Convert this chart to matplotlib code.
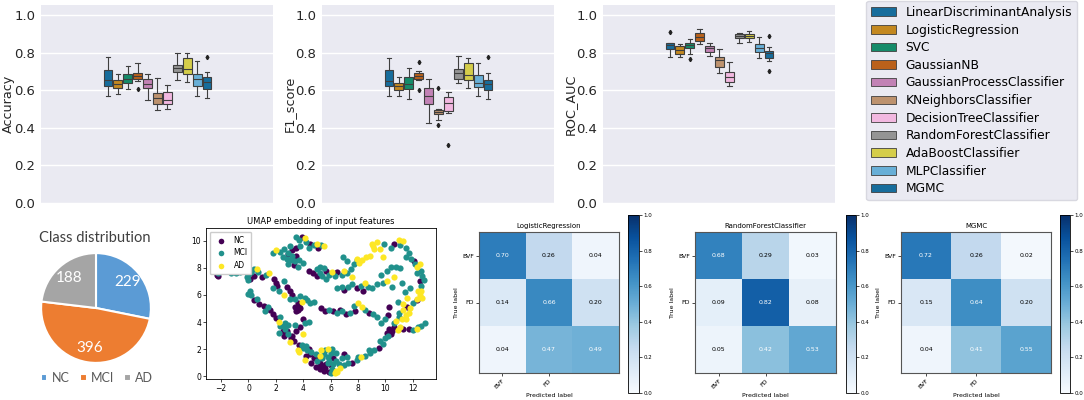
import colorsys
import numpy as np
import matplotlib
matplotlib.use("Agg")
import matplotlib.pyplot as plt
import matplotlib.colors as mcolors
from matplotlib.patches import Patch

# ---------------------------------------------------------------------------
# Data
# ---------------------------------------------------------------------------
models = ["LinearDiscriminantAnalysis", "LogisticRegression", "SVC", "GaussianNB",
          "GaussianProcessClassifier", "KNeighborsClassifier", "DecisionTreeClassifier",
          "RandomForestClassifier", "AdaBoostClassifier", "MLPClassifier", "MGMC"]
model_colors = ["#0173B2", "#DE8F05", "#029E73", "#D55E00", "#CC78BC", "#CA9161",
                "#FBAFE4", "#949494", "#ECE133", "#56B4E9", "#0173B2"]

acc_lo  = [0.568, 0.579, 0.606, 0.648, 0.547, 0.494, 0.501, 0.654, 0.645, 0.568, 0.556]
acc_q1  = [0.622, 0.609, 0.636, 0.657, 0.609, 0.529, 0.524, 0.698, 0.686, 0.623, 0.606]
acc_med = [0.654, 0.632, 0.662, 0.675, 0.632, 0.556, 0.547, 0.716, 0.712, 0.657, 0.643]
acc_q3  = [0.707, 0.654, 0.686, 0.689, 0.657, 0.583, 0.588, 0.734, 0.769, 0.686, 0.671]
acc_hi  = [0.778, 0.686, 0.728, 0.744, 0.684, 0.666, 0.627, 0.796, 0.796, 0.753, 0.698]
acc_fl  = [[], [], [], [0.604], [], [], [], [], [], [], [0.778]]

f1_lo  = [0.568, 0.568, 0.551, 0.654, 0.426, 0.440, 0.480, 0.639, 0.609, 0.568, 0.551]
f1_q1  = [0.622, 0.600, 0.606, 0.659, 0.524, 0.471, 0.490, 0.662, 0.654, 0.615, 0.600]
f1_med = [0.648, 0.622, 0.631, 0.675, 0.570, 0.485, 0.533, 0.693, 0.680, 0.636, 0.631]
f1_q3  = [0.707, 0.636, 0.671, 0.689, 0.609, 0.497, 0.565, 0.712, 0.746, 0.680, 0.654]
f1_hi  = [0.773, 0.671, 0.719, 0.702, 0.659, 0.500, 0.590, 0.782, 0.773, 0.742, 0.693]
f1_fl  = [[], [], [], [0.751, 0.600], [], [0.609, 0.416], [0.307], [], [], [], [0.778]]

roc_lo  = [0.778, 0.778, 0.792, 0.845, 0.782, 0.689, 0.623, 0.853, 0.858, 0.769, 0.755]
roc_q1  = [0.821, 0.790, 0.822, 0.863, 0.805, 0.725, 0.645, 0.879, 0.876, 0.805, 0.773]
roc_med = [0.838, 0.813, 0.838, 0.885, 0.822, 0.760, 0.671, 0.890, 0.888, 0.826, 0.796]
roc_q3  = [0.853, 0.835, 0.849, 0.902, 0.837, 0.778, 0.698, 0.897, 0.897, 0.844, 0.808]
roc_hi  = [0.853, 0.845, 0.874, 0.924, 0.853, 0.817, 0.751, 0.906, 0.915, 0.881, 0.828]
roc_fl  = [[0.908], [], [0.766], [], [], [], [], [], [], [], [0.890, 0.703]]

pie_labels = ["NC", "MCI", "AD"]
pie_counts = [229, 396, 188]
pie_colors = ["#5B9BD5", "#ED7D31", "#A5A5A5"]

umap_nc = [(-2.2, 7.4), (-0.8, 7.7), (-0.3, 7.8), (0.1, 7.2), (0.4, 7.4), (1.0, 7.3),
           (3.9, 10.3), (4.5, 9.8), (5.1, 9.5), (3.2, 9.3), (3.5, 9.5), (3.3, 8.2), (3.5, 8.9),
           (4.4, 7.8), (4.7, 7.6), (5.7, 7.8), (6.5, 7.7), (5.0, 7.4),
           (7.0, 6.4), (7.9, 6.5), (8.4, 6.3),
           (5.3, 5.0), (5.6, 4.8), (6.2, 4.8), (7.1, 4.6), (8.8, 4.7),
           (10.6, 9.8), (12.1, 8.5), (12.5, 7.0), (11.6, 5.1), (10.3, 3.5), (10.4, 3.1),
           (9.5, 2.1), (7.6, 1.0), (6.0, 0.8), (5.6, 0.6), (5.3, 0.8),
           (10.2, 4.5), (10.3, 5.1), (10.6, 3.6), (11.3, 3.5), (11.7, 3.5),
           (2.5, 3.3), (2.6, 3.0), (3.1, 2.8), (3.3, 2.6), (3.5, 3.3), (3.8, 3.6), (3.7, 2.3),
           (4.5, 1.6), (4.8, 1.3), (4.2, 1.5), (4.6, 1.0), (4.0, 4.2),
           (0.4, 5.6), (0.8, 5.3), (1.1, 5.2), (1.6, 4.9), (1.8, 4.6), (2.0, 4.3),
           (1.9, 7.2), (2.0, 6.9), (2.1, 6.7), (2.8, 6.6), (3.0, 6.3), (3.2, 6.0),
           (3.6, 5.4), (3.7, 5.1), (3.5, 4.8),
           (4.4, 2.0), (6.2, 1.3), (7.0, 1.6), (5.7, 0.9), (5.2, 0.5), (5.5, 0.4), (4.9, 0.7),
           (3.4, 5.1), (3.8, 5.0), (3.6, 4.9), (2.8, 3.3), (3.2, 3.0), (5.0, 1.5), (5.2, 1.0),
           (5.9, 0.3), (10.1, 3.2), (10.5, 3.3), (12.3, 5.6), (6.7, 4.9), (7.8, 4.8),
           (2.9, 9.0), (-2.3, 7.5)]
umap_mci = [(-2.2, 7.6), (-1.3, 7.6), (-1.0, 7.7), (-0.9, 7.6), (-0.6, 7.7), (0.0, 7.5),
            (0.2, 7.7), (0.7, 7.7), (1.3, 7.5), (0.4, 7.9), (0.0, 7.1), (-0.1, 7.3),
            (3.5, 10.3), (3.7, 10.1), (4.2, 9.9), (4.8, 9.7), (5.3, 9.7), (4.4, 9.5),
            (1.8, 9.1), (2.3, 9.2), (2.6, 9.4), (2.9, 9.1), (3.8, 9.6), (3.0, 9.6),
            (2.5, 8.8), (2.8, 8.7), (3.1, 8.6), (3.4, 8.5), (3.7, 8.6), (3.6, 8.1), (2.9, 8.3),
            (4.0, 8.4), (3.2, 8.9),
            (5.0, 7.9), (5.2, 8.1), (5.5, 8.0), (5.9, 7.5), (5.4, 7.4), (5.7, 7.2), (6.3, 7.4),
            (6.8, 7.5), (7.2, 7.6), (7.5, 7.9), (7.7, 8.3), (7.9, 8.6), (6.9, 8.8), (7.2, 8.5),
            (5.2, 7.6),
            (6.5, 6.5), (6.8, 6.6), (7.3, 6.6), (7.6, 6.8), (8.2, 6.7), (8.7, 6.6), (9.0, 6.5),
            (9.4, 6.8), (9.8, 6.9),
            (9.7, 7.5), (10.1, 7.8), (10.4, 8.1), (10.8, 8.1), (11.1, 8.0),
            (5.9, 4.9), (6.5, 4.7), (6.8, 4.8), (7.4, 4.7), (7.7, 5.2), (8.5, 4.9), (9.1, 4.6),
            (9.4, 4.4),
            (9.9, 9.8), (10.4, 9.5), (11.1, 9.7), (11.5, 9.5), (11.7, 9.1), (11.9, 8.7),
            (12.6, 7.8), (12.7, 7.4), (12.6, 6.7), (12.0, 5.4), (11.0, 4.4), (10.6, 3.9),
            (10.0, 2.8), (9.8, 2.4), (9.2, 1.9), (8.9, 1.7), (8.5, 1.5), (7.9, 1.2), (7.3, 1.0),
            (7.0, 0.8), (6.1, 0.5), (5.8, 1.0),
            (11.4, 6.2), (11.8, 6.5), (11.2, 6.9), (10.5, 6.6), (10.9, 5.5), (10.0, 4.2), (9.7, 3.9),
            (12.0, 3.4), (12.6, 3.7), (12.9, 3.9),
            (2.3, 3.7), (2.7, 3.5), (2.9, 3.8), (2.9, 3.1), (3.4, 3.8), (4.1, 3.9), (4.4, 4.0),
            (4.0, 2.1), (4.3, 1.9), (5.0, 1.1), (5.4, 1.3), (2.6, 3.7), (2.7, 3.9),
            (0.1, 6.3), (0.2, 6.0), (1.4, 5.1), (2.3, 4.4), (1.2, 4.8), (0.6, 5.7), (0.0, 6.1),
            (1.8, 6.5), (2.2, 6.3), (2.6, 7.0), (3.4, 5.7), (4.1, 5.8), (4.3, 5.6), (4.5, 5.4),
            (3.8, 5.9), (3.0, 5.7), (4.8, 5.5),
            (3.9, 2.3), (4.2, 2.2), (4.6, 1.8), (4.9, 1.6), (5.5, 1.6), (5.8, 1.4), (6.0, 1.7),
            (6.4, 1.1), (6.6, 0.9), (6.8, 1.3), (7.2, 1.4), (5.9, 1.1), (6.0, 0.2), (6.1, 2.0),
            (6.4, 1.7), (5.6, 1.9), (6.2, 0.9),
            (12.3, 7.6), (12.8, 7.1), (12.2, 8.3), (11.5, 8.8), (11.0, 4.7), (8.0, 1.4),
            (8.8, 1.9), (9.6, 2.6), (10.2, 3.0), (12.4, 3.6), (2.2, 3.2)]
umap_ad = [(0.6, 7.9), (1.5, 7.6), (4.1, 10.2), (5.0, 9.8), (5.5, 9.6), (2.0, 9.3), (6.1, 7.7),
           (7.0, 7.8), (8.1, 8.4), (8.3, 8.6), (8.6, 8.8), (8.9, 8.9), (7.6, 7.3), (7.9, 8.7),
           (8.5, 6.9), (10.1, 7.0), (10.6, 7.3), (8.0, 5.4), (8.3, 5.1),
           (9.1, 9.6), (9.4, 9.9), (9.6, 9.4), (11.0, 10.1), (11.3, 10.0), (12.3, 8.1), (12.5, 8.3),
           (12.4, 6.3), (12.5, 6.0), (12.3, 5.7), (11.7, 4.7), (11.5, 4.5), (11.3, 4.9),
           (10.8, 4.1), (11.2, 4.2), (8.2, 1.4), (6.7, 0.6), (6.4, 0.4), (11.6, 5.8),
           (10.9, 3.4), (12.3, 3.5), (11.1, 3.6),
           (3.0, 2.5), (4.0, 3.1), (3.7, 1.8), (5.2, 1.5), (2.2, 4.0), (2.6, 6.0), (3.9, 5.5),
           (5.3, 1.9), (6.3, 0.2), (6.5, 0.3), (5.8, 2.0), (4.1, 1.2), (3.6, 1.9),
           (9.2, 9.4), (9.0, 9.8), (11.5, 4.2), (11.8, 5.0), (12.6, 6.3), (12.7, 5.8),
           (11.3, 5.3), (9.8, 8.8)]

cm_titles = ["LogisticRegression", "RandomForestClassifier", "MGMC"]
cm_tick_labels = ["BVF", "FD"]
cm_logreg = [[0.70, 0.26, 0.04], [0.14, 0.66, 0.20], [0.04, 0.47, 0.49]]
cm_rf     = [[0.68, 0.29, 0.03], [0.09, 0.82, 0.08], [0.05, 0.42, 0.53]]
cm_mgmc   = [[0.72, 0.26, 0.02], [0.15, 0.64, 0.20], [0.04, 0.41, 0.55]]


def desat(c, prop=0.75):
    h, l, s = colorsys.rgb_to_hls(*mcolors.to_rgb(c))
    return colorsys.hls_to_rgb(h, l, s * prop)


W, H = 1084, 400
fig = plt.figure(figsize=(W / 100, H / 100), dpi=100)


def px_axes(x0, y0, x1, y1):
    # pixel box (top-left origin) -> figure axes
    return fig.add_axes([x0 / W, 1 - y1 / H, (x1 - x0) / W, (y1 - y0) / H])


# ---------------------------------------------------------------------------
# Top row: boxplots (seaborn darkgrid look)
# ---------------------------------------------------------------------------
box_cols = [desat(c) for c in model_colors]
line_c = "#3f3f3f"
panels = [
    (41, "Accuracy", acc_lo, acc_q1, acc_med, acc_q3, acc_hi, acc_fl),
    (322, "F1_score", f1_lo, f1_q1, f1_med, f1_q3, f1_hi, f1_fl),
    (603, "ROC_AUC", roc_lo, roc_q1, roc_med, roc_q3, roc_hi, roc_fl),
]
for x0, label, lo, q1, med, q3, hi, fl in panels:
    ax = px_axes(x0, 5, x0 + 232, 203)
    ax.set_facecolor("#EAEAF2")
    for s in ax.spines.values():
        s.set_visible(False)
    ax.grid(True, axis="y", color="white", lw=1.0)
    ax.set_axisbelow(True)
    stats = [dict(whislo=lo[i], q1=q1[i], med=med[i], q3=q3[i], whishi=hi[i], fliers=fl[i])
             for i in range(len(models))]
    bp = ax.bxp(stats, positions=np.arange(len(models)), widths=0.9, patch_artist=True,
                boxprops=dict(edgecolor=line_c, lw=0.8),
                medianprops=dict(color=line_c, lw=0.8),
                whiskerprops=dict(color=line_c, lw=0.8),
                capprops=dict(color=line_c, lw=0.8),
                flierprops=dict(marker="d", markersize=2.2, markerfacecolor="#222222",
                                markeredgecolor="#222222"))
    for patch, c in zip(bp["boxes"], box_cols):
        patch.set_facecolor(c)
    ax.set_xlim(-6.77, 16.67)
    ax.set_ylim(0, 1.053)
    ax.set_xticks([])
    ax.set_yticks([0.0, 0.2, 0.4, 0.6, 0.8, 1.0])
    ax.set_yticklabels(["0.0", "0.2", "0.4", "0.6", "0.8", "1.0"])
    ax.tick_params(axis="y", length=0, labelsize=9.5, labelcolor="#262626", pad=4)
    ax.set_ylabel(label, fontsize=9.2, color="#262626")
    ax.yaxis.set_label_coords(-33 / 232, 0.5)
    ax.yaxis.label.set_va("center")

handles = [Patch(facecolor=c, edgecolor=line_c, lw=0.6) for c in box_cols]
fig.legend(handles, models, loc="upper right", bbox_to_anchor=(1077 / W, 1 - 1 / H),
           borderaxespad=0, fontsize=8.8, labelspacing=0.38, handlelength=2.0,
           handleheight=0.7, handletextpad=0.8, borderpad=0.4, facecolor="#EAEAF2",
           edgecolor="#d8d8e0", framealpha=1.0, fancybox=True)

# ---------------------------------------------------------------------------
# Pie: class distribution
# ---------------------------------------------------------------------------
pie_font = ["Lato", "DejaVu Sans"]
ax = px_axes(40, 252, 152, 364)
wedges, _, autotexts = ax.pie(pie_counts, colors=pie_colors, startangle=90, counterclock=False,
                              autopct=lambda p: f"{p * sum(pie_counts) / 100:.0f}",
                              pctdistance=0.74,
                              wedgeprops=dict(edgecolor="white", linewidth=1.5),
                              textprops=dict(color="white", fontsize=11, family=pie_font))
ax.set_xlim(-1.02, 1.02)
ax.set_ylim(-1.02, 1.02)
fig.text(95 / W, 1 - 238 / H, "Class distribution", ha="center", va="center",
         fontsize=10.5, color="#404040", family=pie_font)
fig.legend(wedges, pie_labels, loc="center", bbox_to_anchor=(97 / W, 1 - 378 / H), ncol=3,
           frameon=False, handlelength=0.55, handleheight=0.55, handletextpad=0.35,
           columnspacing=0.8, borderaxespad=0, prop=dict(family=pie_font, size=9),
           labelcolor="#595959")

# ---------------------------------------------------------------------------
# UMAP scatter
# ---------------------------------------------------------------------------
ax = px_axes(206, 228, 436, 379)
for pts, name, c in [(umap_nc, "NC", "#440154"), (umap_mci, "MCI", "#21918c"),
                     (umap_ad, "AD", "#fde725")]:
    xy = np.array(pts)
    ax.scatter(xy[:, 0], xy[:, 1], s=20, color=c, label=name, linewidths=0)
ax.set_xlim(-3.1, 13.7)
ax.set_ylim(-0.22, 10.96)
ax.set_xticks([-2, 0, 2, 4, 6, 8, 10, 12])
ax.set_yticks([0, 2, 4, 6, 8, 10])
ax.tick_params(labelsize=5.5, length=2, width=0.5, pad=1.5)
for s in ax.spines.values():
    s.set_linewidth(0.6)
ax.set_title("UMAP embedding of input features", fontsize=6, pad=3)
ax.legend(loc="upper left", fontsize=5.5, markerscale=0.9, handletextpad=0.6,
          borderpad=0.5, labelspacing=0.5, framealpha=1.0)

# ---------------------------------------------------------------------------
# Confusion matrices
# ---------------------------------------------------------------------------
cm_boxes = [(479, 619, 628, 639), (695, 836, 846, 856), (901, 1051, 1060, 1070)]
for (mx0, mx1, cx0, cx1), title, cm in zip(cm_boxes, cm_titles, [cm_logreg, cm_rf, cm_mgmc]):
    ax = px_axes(mx0, 232, mx1, 373)
    cm = np.array(cm)
    im = ax.imshow(cm, cmap="Blues", vmin=0, vmax=1, aspect="auto")
    for i in range(3):
        for j in range(3):
            v = cm[i, j]
            ax.text(j, i, f"{v:.2f}", ha="center", va="center", fontsize=4.5,
                    color="white" if v > 0.4 else "black")
    ax.set_xticks([0, 1])
    ax.set_xticklabels(cm_tick_labels, rotation=45, ha="right", rotation_mode="anchor")
    ax.set_yticks([0, 1])
    ax.set_yticklabels(cm_tick_labels)
    ax.tick_params(labelsize=4.5, length=2, width=0.5, pad=1.5)
    for s in ax.spines.values():
        s.set_linewidth(0.8)
        s.set_color("#555555")
    ax.set_xlabel("Predicted label", fontsize=4.5, labelpad=2)
    ax.set_ylabel("True label", fontsize=4.5, labelpad=2)
    ax.set_title(title, fontsize=5, pad=3)
    cax = px_axes(cx0, 215, cx1, 393)
    cb = fig.colorbar(im, cax=cax, ticks=[0.0, 0.2, 0.4, 0.6, 0.8, 1.0])
    cb.ax.tick_params(labelsize=4, length=2, width=0.5, pad=1)
    cb.outline.set_linewidth(0.6)

fig.savefig("out.png", dpi=100)
